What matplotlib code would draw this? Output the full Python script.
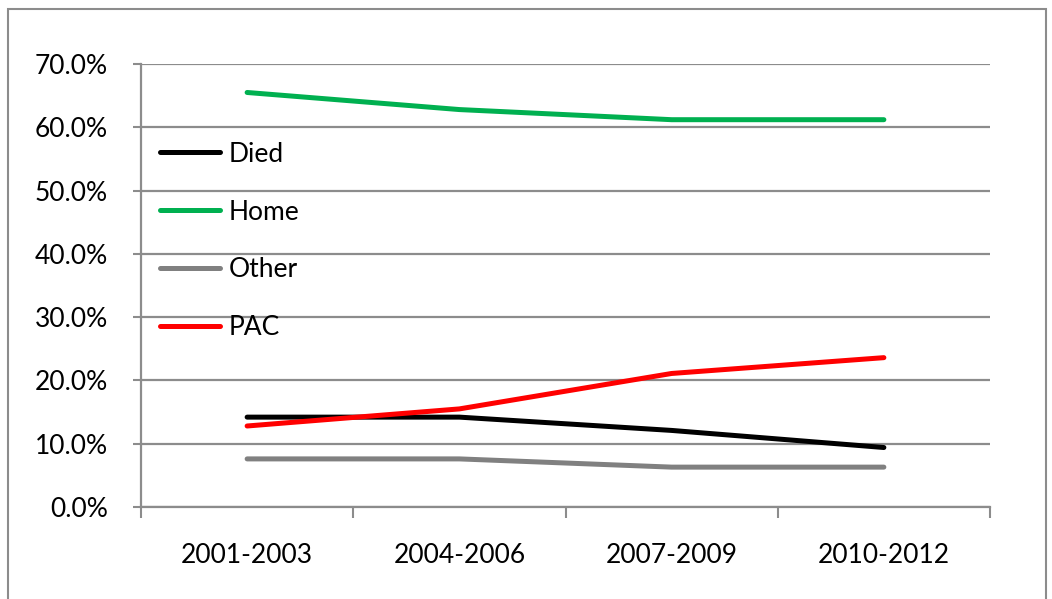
import matplotlib.pyplot as plt
import numpy as np
from matplotlib.patches import Rectangle
from matplotlib.ticker import FixedLocator, PercentFormatter

periods = ["2001-2003", "2004-2006", "2007-2009", "2010-2012"]
died = [14.2, 14.2, 12.1, 9.4]
home = [65.5, 62.8, 61.2, 61.2]
other = [7.6, 7.6, 6.3, 6.3]
pac = [12.8, 15.5, 21.1, 23.6]

plt.rcParams["font.family"] = ["Lato", "DejaVu Sans"]
grid_col = "#8c8c8c"


def main() -> None:
    fig = plt.figure(figsize=(10.52, 5.99), dpi=100)
    ax = fig.add_axes([141 / 1052, 1 - 507 / 599, (990 - 141) / 1052, (507 - 64) / 599])

    # outer chart border, runs off the bottom like the original
    fig.patches.append(Rectangle((8 / 1052, -0.05), (1046 - 8) / 1052, 1 - 9 / 599 + 0.05,
                                 transform=fig.transFigure, fill=False,
                                 edgecolor=grid_col, linewidth=1.5))

    x = np.arange(len(periods))
    lw = 3.6
    ax.plot(x, died, color="black", lw=lw, label="Died", solid_capstyle="round")
    ax.plot(x, home, color="#00b050", lw=lw, label="Home", solid_capstyle="round")
    ax.plot(x, other, color="#808080", lw=lw, label="Other", solid_capstyle="round")
    ax.plot(x, pac, color="#ff0000", lw=lw, label="PAC", solid_capstyle="round")

    ax.set_xlim(-0.5, len(periods) - 0.5)
    ax.set_ylim(0, 70)
    ax.set_yticks(np.arange(0, 71, 10))
    ax.yaxis.set_major_formatter(PercentFormatter(decimals=1))
    ax.grid(axis="y", color=grid_col, lw=1.6)
    ax.set_axisbelow(True)

    ax.xaxis.set_major_locator(FixedLocator(np.arange(-0.5, len(periods), 1.0)))
    ax.xaxis.set_minor_locator(FixedLocator(x))
    ax.set_xticklabels([], minor=False)
    ax.set_xticklabels(periods, minor=True)
    ax.tick_params(axis="x", which="major", length=8, width=1.5, color=grid_col, direction="out")
    ax.tick_params(axis="x", which="minor", length=0, pad=26, labelsize=19)
    ax.tick_params(axis="y", length=6, width=1.5, color=grid_col, pad=18, labelsize=19)

    for side in ("top", "right"):
        ax.spines[side].set_visible(False)
    for side in ("left", "bottom"):
        ax.spines[side].set_color(grid_col)
        ax.spines[side].set_linewidth(1.6)

    ax.legend(loc="upper left", bbox_to_anchor=(0.022, 0.825), frameon=False, fontsize=19,
              handlelength=2.3, handletextpad=0.3, labelspacing=1.25, borderpad=0,
              borderaxespad=0)

    fig.savefig("out.png", dpi=100)


if __name__ == "__main__":
    main()
